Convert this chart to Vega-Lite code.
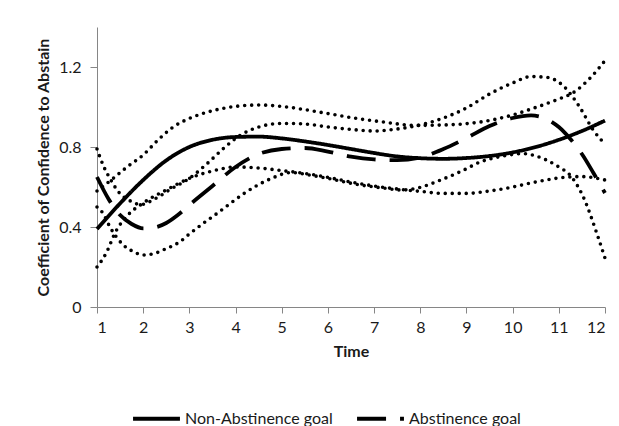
{
  "$schema": "https://vega.github.io/schema/vega-lite/v6.json",
  "width": 508,
  "height": 280,
  "autosize": {"type": "none"},
  "padding": {"left": 97, "top": 27, "right": 14, "bottom": 119},
  "background": "white",
  "config": {"view": {"stroke": null}, "font": "Lato"},
  "datasets": {
    "main": [
      {"goal": "Non-Abstinence goal", "t": 1, "v": 0.39},
      {"goal": "Non-Abstinence goal", "t": 1.5, "v": 0.518},
      {"goal": "Non-Abstinence goal", "t": 2, "v": 0.635},
      {"goal": "Non-Abstinence goal", "t": 2.5, "v": 0.733},
      {"goal": "Non-Abstinence goal", "t": 3, "v": 0.8},
      {"goal": "Non-Abstinence goal", "t": 3.5, "v": 0.836},
      {"goal": "Non-Abstinence goal", "t": 4, "v": 0.85},
      {"goal": "Non-Abstinence goal", "t": 4.5, "v": 0.852},
      {"goal": "Non-Abstinence goal", "t": 5, "v": 0.843},
      {"goal": "Non-Abstinence goal", "t": 5.5, "v": 0.828},
      {"goal": "Non-Abstinence goal", "t": 6, "v": 0.81},
      {"goal": "Non-Abstinence goal", "t": 6.5, "v": 0.79},
      {"goal": "Non-Abstinence goal", "t": 7, "v": 0.77},
      {"goal": "Non-Abstinence goal", "t": 7.5, "v": 0.753},
      {"goal": "Non-Abstinence goal", "t": 8, "v": 0.744},
      {"goal": "Non-Abstinence goal", "t": 8.5, "v": 0.741},
      {"goal": "Non-Abstinence goal", "t": 9, "v": 0.745},
      {"goal": "Non-Abstinence goal", "t": 9.5, "v": 0.755},
      {"goal": "Non-Abstinence goal", "t": 10, "v": 0.773},
      {"goal": "Non-Abstinence goal", "t": 10.5, "v": 0.8},
      {"goal": "Non-Abstinence goal", "t": 11, "v": 0.836},
      {"goal": "Non-Abstinence goal", "t": 11.5, "v": 0.88},
      {"goal": "Non-Abstinence goal", "t": 12, "v": 0.932},
      {"goal": "Abstinence goal", "t": 1, "v": 0.65},
      {"goal": "Abstinence goal", "t": 1.25, "v": 0.54},
      {"goal": "Abstinence goal", "t": 1.5, "v": 0.46},
      {"goal": "Abstinence goal", "t": 1.75, "v": 0.415},
      {"goal": "Abstinence goal", "t": 2, "v": 0.393},
      {"goal": "Abstinence goal", "t": 2.25, "v": 0.398},
      {"goal": "Abstinence goal", "t": 2.5, "v": 0.42},
      {"goal": "Abstinence goal", "t": 2.75, "v": 0.46},
      {"goal": "Abstinence goal", "t": 3, "v": 0.51},
      {"goal": "Abstinence goal", "t": 3.5, "v": 0.605},
      {"goal": "Abstinence goal", "t": 4, "v": 0.7},
      {"goal": "Abstinence goal", "t": 4.5, "v": 0.765},
      {"goal": "Abstinence goal", "t": 5, "v": 0.79},
      {"goal": "Abstinence goal", "t": 5.5, "v": 0.795},
      {"goal": "Abstinence goal", "t": 6, "v": 0.777},
      {"goal": "Abstinence goal", "t": 6.5, "v": 0.752},
      {"goal": "Abstinence goal", "t": 7, "v": 0.738},
      {"goal": "Abstinence goal", "t": 7.5, "v": 0.734},
      {"goal": "Abstinence goal", "t": 8, "v": 0.748},
      {"goal": "Abstinence goal", "t": 8.5, "v": 0.79},
      {"goal": "Abstinence goal", "t": 9, "v": 0.845},
      {"goal": "Abstinence goal", "t": 9.5, "v": 0.905},
      {"goal": "Abstinence goal", "t": 10, "v": 0.945},
      {"goal": "Abstinence goal", "t": 10.4, "v": 0.958},
      {"goal": "Abstinence goal", "t": 11, "v": 0.9},
      {"goal": "Abstinence goal", "t": 11.25, "v": 0.84},
      {"goal": "Abstinence goal", "t": 11.5, "v": 0.765},
      {"goal": "Abstinence goal", "t": 11.75, "v": 0.67},
      {"goal": "Abstinence goal", "t": 12, "v": 0.57}
    ],
    "bands": [
      {"band": "NA upper", "t": 1, "v": 0.58},
      {"band": "NA upper", "t": 1.35, "v": 0.643},
      {"band": "NA upper", "t": 1.65, "v": 0.7},
      {"band": "NA upper", "t": 2, "v": 0.76},
      {"band": "NA upper", "t": 2.3, "v": 0.83},
      {"band": "NA upper", "t": 2.65, "v": 0.9},
      {"band": "NA upper", "t": 3, "v": 0.943},
      {"band": "NA upper", "t": 3.4, "v": 0.975},
      {"band": "NA upper", "t": 4, "v": 1.003},
      {"band": "NA upper", "t": 4.5, "v": 1.01},
      {"band": "NA upper", "t": 5, "v": 1.003},
      {"band": "NA upper", "t": 5.6, "v": 0.983},
      {"band": "NA upper", "t": 6, "v": 0.967},
      {"band": "NA upper", "t": 6.7, "v": 0.94},
      {"band": "NA upper", "t": 7.2, "v": 0.925},
      {"band": "NA upper", "t": 7.9, "v": 0.908},
      {"band": "NA upper", "t": 8.5, "v": 0.91},
      {"band": "NA upper", "t": 9.3, "v": 0.925},
      {"band": "NA upper", "t": 10, "v": 0.96},
      {"band": "NA upper", "t": 10.4, "v": 0.99},
      {"band": "NA upper", "t": 11, "v": 1.04},
      {"band": "NA upper", "t": 11.3, "v": 1.07},
      {"band": "NA upper", "t": 11.7, "v": 1.15},
      {"band": "NA upper", "t": 12, "v": 1.232},
      {"band": "NA lower", "t": 1, "v": 0.2},
      {"band": "NA lower", "t": 1.2, "v": 0.27},
      {"band": "NA lower", "t": 1.4, "v": 0.375},
      {"band": "NA lower", "t": 1.65, "v": 0.455},
      {"band": "NA lower", "t": 2, "v": 0.52},
      {"band": "NA lower", "t": 2.5, "v": 0.585},
      {"band": "NA lower", "t": 3, "v": 0.643},
      {"band": "NA lower", "t": 3.5, "v": 0.68},
      {"band": "NA lower", "t": 4, "v": 0.7},
      {"band": "NA lower", "t": 4.5, "v": 0.695},
      {"band": "NA lower", "t": 5, "v": 0.682},
      {"band": "NA lower", "t": 5.5, "v": 0.668},
      {"band": "NA lower", "t": 6, "v": 0.648},
      {"band": "NA lower", "t": 6.5, "v": 0.625},
      {"band": "NA lower", "t": 7, "v": 0.605},
      {"band": "NA lower", "t": 7.5, "v": 0.59},
      {"band": "NA lower", "t": 8, "v": 0.578},
      {"band": "NA lower", "t": 8.5, "v": 0.568},
      {"band": "NA lower", "t": 9, "v": 0.568},
      {"band": "NA lower", "t": 9.5, "v": 0.58},
      {"band": "NA lower", "t": 10, "v": 0.6},
      {"band": "NA lower", "t": 10.5, "v": 0.625},
      {"band": "NA lower", "t": 11, "v": 0.645},
      {"band": "NA lower", "t": 11.5, "v": 0.652},
      {"band": "NA lower", "t": 12, "v": 0.635},
      {"band": "A upper", "t": 1, "v": 0.79},
      {"band": "A upper", "t": 1.15, "v": 0.7},
      {"band": "A upper", "t": 1.3, "v": 0.635},
      {"band": "A upper", "t": 1.45, "v": 0.58},
      {"band": "A upper", "t": 1.7, "v": 0.533},
      {"band": "A upper", "t": 1.95, "v": 0.512},
      {"band": "A upper", "t": 2.25, "v": 0.54},
      {"band": "A upper", "t": 2.6, "v": 0.59},
      {"band": "A upper", "t": 3, "v": 0.643},
      {"band": "A upper", "t": 3.4, "v": 0.72},
      {"band": "A upper", "t": 3.75, "v": 0.795},
      {"band": "A upper", "t": 4.1, "v": 0.858},
      {"band": "A upper", "t": 4.5, "v": 0.9},
      {"band": "A upper", "t": 5, "v": 0.918},
      {"band": "A upper", "t": 5.5, "v": 0.915},
      {"band": "A upper", "t": 6, "v": 0.9},
      {"band": "A upper", "t": 6.5, "v": 0.888},
      {"band": "A upper", "t": 7, "v": 0.88},
      {"band": "A upper", "t": 7.5, "v": 0.89},
      {"band": "A upper", "t": 8, "v": 0.91},
      {"band": "A upper", "t": 8.5, "v": 0.945},
      {"band": "A upper", "t": 9, "v": 0.995},
      {"band": "A upper", "t": 9.5, "v": 1.065},
      {"band": "A upper", "t": 10, "v": 1.12},
      {"band": "A upper", "t": 10.4, "v": 1.152},
      {"band": "A upper", "t": 10.75, "v": 1.148},
      {"band": "A upper", "t": 11.1, "v": 1.105},
      {"band": "A upper", "t": 11.45, "v": 1.0},
      {"band": "A upper", "t": 11.75, "v": 0.883},
      {"band": "A upper", "t": 12, "v": 0.815},
      {"band": "A lower", "t": 1, "v": 0.5},
      {"band": "A lower", "t": 1.14, "v": 0.465},
      {"band": "A lower", "t": 1.28, "v": 0.4},
      {"band": "A lower", "t": 1.42, "v": 0.35},
      {"band": "A lower", "t": 1.57, "v": 0.31},
      {"band": "A lower", "t": 1.79, "v": 0.277},
      {"band": "A lower", "t": 2, "v": 0.26},
      {"band": "A lower", "t": 2.2, "v": 0.265},
      {"band": "A lower", "t": 2.5, "v": 0.292},
      {"band": "A lower", "t": 2.8, "v": 0.327},
      {"band": "A lower", "t": 3, "v": 0.365},
      {"band": "A lower", "t": 3.3, "v": 0.418},
      {"band": "A lower", "t": 3.6, "v": 0.468},
      {"band": "A lower", "t": 3.9, "v": 0.52},
      {"band": "A lower", "t": 4.2, "v": 0.57},
      {"band": "A lower", "t": 4.5, "v": 0.612},
      {"band": "A lower", "t": 4.75, "v": 0.64},
      {"band": "A lower", "t": 5.2, "v": 0.672},
      {"band": "A lower", "t": 5.6, "v": 0.66},
      {"band": "A lower", "t": 6, "v": 0.643},
      {"band": "A lower", "t": 6.7, "v": 0.61},
      {"band": "A lower", "t": 7.2, "v": 0.595},
      {"band": "A lower", "t": 7.6, "v": 0.585},
      {"band": "A lower", "t": 8, "v": 0.598},
      {"band": "A lower", "t": 8.43, "v": 0.634},
      {"band": "A lower", "t": 8.9, "v": 0.68},
      {"band": "A lower", "t": 9.3, "v": 0.725},
      {"band": "A lower", "t": 9.8, "v": 0.755},
      {"band": "A lower", "t": 10.23, "v": 0.767},
      {"band": "A lower", "t": 10.5, "v": 0.755},
      {"band": "A lower", "t": 10.74, "v": 0.734},
      {"band": "A lower", "t": 11, "v": 0.7},
      {"band": "A lower", "t": 11.24, "v": 0.66},
      {"band": "A lower", "t": 11.53, "v": 0.55},
      {"band": "A lower", "t": 11.82, "v": 0.37},
      {"band": "A lower", "t": 12, "v": 0.244}
    ]
  },
  "encoding": {
    "x": {
      "field": "t", "type": "quantitative",
      "scale": {"domain": [1, 12], "nice": false, "zero": false},
      "axis": {
        "values": [1, 2, 3, 4, 5, 6, 7, 8, 9, 10, 11, 12], "format": "d",
        "grid": false, "domainColor": "#868686", "tickColor": "#868686", "tickSize": 6,
        "labelFont": "Lato", "labelFontSize": 16, "labelColor": "#1a1a1a", "labelPadding": 6,
        "title": "Time", "titleFont": "Lato", "titleFontSize": 16, "titleFontWeight": "bold",
        "titleColor": "#1a1a1a", "titlePadding": 8
      }
    },
    "y": {
      "field": "v", "type": "quantitative",
      "scale": {"domain": [0, 1.4], "nice": false},
      "axis": {
        "values": [0, 0.4, 0.8, 1.2], "format": ".1~f",
        "grid": false, "domainColor": "#868686", "tickColor": "#868686", "tickSize": 7,
        "labelFont": "Lato", "labelFontSize": 16, "labelColor": "#1a1a1a", "labelPadding": 9,
        "title": "Coefficient of Confidence to Abstain", "titleFont": "Lato", "titleFontSize": 16,
        "titleFontWeight": "bold", "titleColor": "#1a1a1a", "titlePadding": 7
      }
    }
  },
  "layer": [
    {
      "data": {"name": "bands"},
      "mark": {"type": "line", "interpolate": "monotone", "strokeDash": [0, 7], "strokeCap": "round", "strokeWidth": 3.6, "color": "black"},
      "encoding": {"detail": {"field": "band", "type": "nominal"}}
    },
    {
      "data": {"name": "main"},
      "mark": {"type": "line", "interpolate": "monotone", "strokeWidth": 3.8, "color": "black"},
      "encoding": {
        "strokeDash": {
          "field": "goal", "type": "nominal",
          "scale": {"domain": ["Non-Abstinence goal", "Abstinence goal"], "range": [[1, 0], [29, 14]]},
          "legend": {
            "orient": "none", "legendX": 34, "legendY": 366, "direction": "horizontal",
            "title": null, "symbolType": "stroke", "symbolSize": 2200, "symbolStrokeWidth": 3.8,
            "symbolStrokeColor": "black", "labelFont": "Lato", "labelFontSize": 16,
            "labelColor": "#1a1a1a", "labelOffset": 3, "columnPadding": 16
          }
        }
      }
    }
  ]
}
